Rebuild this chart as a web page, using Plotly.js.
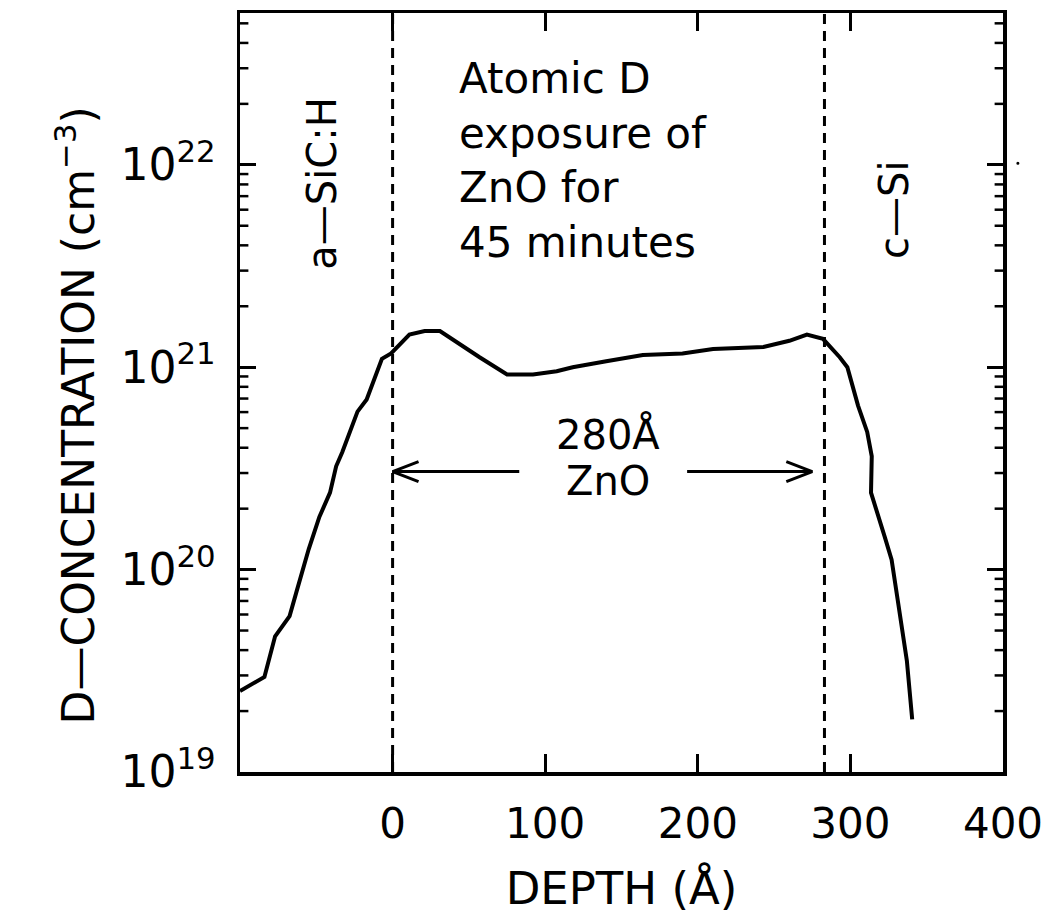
<!DOCTYPE html>
<html>
<head>
<meta charset="utf-8">
<script src="https://cdn.plot.ly/plotly-3.0.1.min.js"></script>
<style>
  html, body { margin: 0; padding: 0; background: #fff; }
  #plot { width: 1051px; height: 920px; }
</style>
</head>
<body>
<div id="plot"></div>
<script>
// Deuterium depth profile through the ZnO layer
const depth = [-100, -84, -77, -67.5, -63, -55, -48, -41, -37, -33, -23, -17, -7, -1,
  11, 21, 31, 50.5, 57, 75, 92, 107.5, 118, 140, 164, 190, 210, 243, 254, 260,
  271.5, 282, 293, 298, 305, 311, 314, 313.5, 322.5, 327, 331, 334.5, 337, 340.5];
const concentration = [2.51e19, 2.95e19, 4.68e19, 5.89e19, 7.76e19, 1.26e20, 1.82e20,
  2.40e20, 3.24e20, 3.80e20, 6.03e20, 6.92e20, 1.10e21, 1.17e21, 1.45e21, 1.51e21,
  1.51e21, 1.20e21, 1.12e21, 9.2e20, 9.2e20, 9.55e20, 1.0e21, 1.07e21, 1.15e21,
  1.17e21, 1.23e21, 1.26e21, 1.32e21, 1.35e21, 1.45e21, 1.38e21, 1.12e21, 1.0e21,
  6.46e20, 4.79e20, 3.63e20, 2.40e20, 1.45e20, 1.12e20, 7.08e19, 4.90e19, 3.55e19, 1.82e19];

// Interfaces of the ZnO film
const interfaces = [0, 283];
const filmThickness = 280;

// Axis ticks
const xTickVals = [0, 100, 200, 300, 400];
const xTickText = ['0', '100', '200', '300', '400'];
const yTickVals = [1e19, 1e20, 1e21, 1e22];
const yTickText = ['10<sup>19</sup>', '10<sup>20</sup>', '10<sup>21</sup>', '10<sup>22</sup>'];
const yMinorVals = [];
for (let e = 19; e <= 22; e++) for (let m = 2; m <= 9; m++) yMinorVals.push(m * Math.pow(10, e));

const yLo = 19, yHi = 22.75;
const FONT = 'DejaVu Sans, sans-serif';
const ink = '#000';

const traces = [];

// interface markers
interfaces.forEach(x0 => {
  traces.push({
    x: [x0, x0], y: [Math.pow(10, yLo), Math.pow(10, yHi)],
    mode: 'lines', line: {color: ink, width: 3, dash: '10px,7px'},
    hoverinfo: 'skip', showlegend: false
  });
});

// measured profile
traces.push({
  x: depth, y: concentration, mode: 'lines',
  line: {color: ink, width: 4}, showlegend: false
});

// thickness arrows
const arrowY = 3.05e20;
const headDx = 17, headF = 1.12;
const leftShaftEnd = 83, rightShaftStart = 193, rightTip = 275;
traces.push({
  x: [interfaces[0], leftShaftEnd, null, interfaces[0] + headDx, interfaces[0], interfaces[0] + headDx],
  y: [arrowY, arrowY, null, arrowY * headF, arrowY, arrowY / headF],
  mode: 'lines', line: {color: ink, width: 3}, hoverinfo: 'skip', showlegend: false
});
traces.push({
  x: [rightShaftStart, rightTip, null, rightTip - headDx, rightTip, rightTip - headDx],
  y: [arrowY, arrowY, null, arrowY * headF, arrowY, arrowY / headF],
  mode: 'lines', line: {color: ink, width: 3}, hoverinfo: 'skip', showlegend: false
});

// minor log ticks on both vertical frame edges (x2 is a hidden 0..1 frame axis)
const minorLen = 0.011;
const mx = [], my = [];
yMinorVals.forEach(v => {
  mx.push(0, minorLen, null, 1 - minorLen, 1, null);
  my.push(v, v, null, v, v, null);
});
traces.push({
  x: mx, y: my, xaxis: 'x2', mode: 'lines', line: {color: ink, width: 2.5},
  hoverinfo: 'skip', showlegend: false, cliponaxis: false
});

const txt = (size) => ({family: FONT, size: size, color: ink});

const layout = {
  width: 1051, height: 920,
  margin: {l: 240, r: 48, t: 13, b: 148},
  paper_bgcolor: '#fff', plot_bgcolor: '#fff',
  showlegend: false,
  xaxis: {
    range: [-100, 400], tickmode: 'array', tickvals: xTickVals, ticktext: xTickText,
    ticks: 'inside', ticklen: 18, tickwidth: 3, tickcolor: ink,
    showline: true, linewidth: 3.5, linecolor: ink, mirror: 'ticks',
    showgrid: false, zeroline: false,
    tickfont: txt(42), ticklabelstandoff: 12,
    title: {text: 'DEPTH (Å)', font: txt(45), standoff: 26}
  },
  xaxis2: {
    overlaying: 'x', range: [0, 1], visible: false, fixedrange: true
  },
  yaxis: {
    type: 'log', range: [yLo, yHi], tickmode: 'array', tickvals: yTickVals, ticktext: yTickText,
    ticks: 'inside', ticklen: 16, tickwidth: 3, tickcolor: ink,
    showline: true, linewidth: 3.5, linecolor: ink, mirror: 'ticks',
    showgrid: false, zeroline: false,
    tickfont: txt(44), ticklabelstandoff: 12
  },
  annotations: [
    {x: -0.216, y: 0.47, xref: 'paper', yref: 'paper', xanchor: 'center', yanchor: 'middle',
     text: 'D—CONCENTRATION (cm<sup>−3</sup>)',
     textangle: -90, showarrow: false, font: txt(44)},
    {x: -46.5, y: 21.91, xref: 'x', yref: 'y', xanchor: 'center', yanchor: 'middle',
     text: 'a—SiC:H', textangle: -90, showarrow: false, font: txt(40)},
    {x: 329, y: 21.78, xref: 'x', yref: 'y', xanchor: 'center', yanchor: 'middle',
     text: 'c—Si', textangle: -90, showarrow: false, font: txt(40)},
    {x: 42, y: 22.02, xref: 'x', yref: 'y', xanchor: 'left', align: 'left',
     text: 'Atomic D<br>exposure of<br>ZnO for<br>45 minutes', showarrow: false, font: txt(42)},
    {x: 141, y: Math.log10(arrowY) + 0.185, xref: 'x', yref: 'y', text: filmThickness + 'Å',
     showarrow: false, font: txt(40), borderpad: 0},
    {x: 141, y: Math.log10(arrowY) - 0.045, xref: 'x', yref: 'y', text: 'ZnO',
     showarrow: false, font: txt(40), borderpad: 0}
  ],
  shapes: [
    {type: 'circle', xref: 'paper', yref: 'paper', x0: 1.0175, x1: 1.0215, y0: 0.800, y1: 0.804,
     fillcolor: ink, line: {width: 0}}
  ]
};

Plotly.newPlot('plot', traces, layout, {staticPlot: true, displayModeBar: false});
</script>
</body>
</html>
